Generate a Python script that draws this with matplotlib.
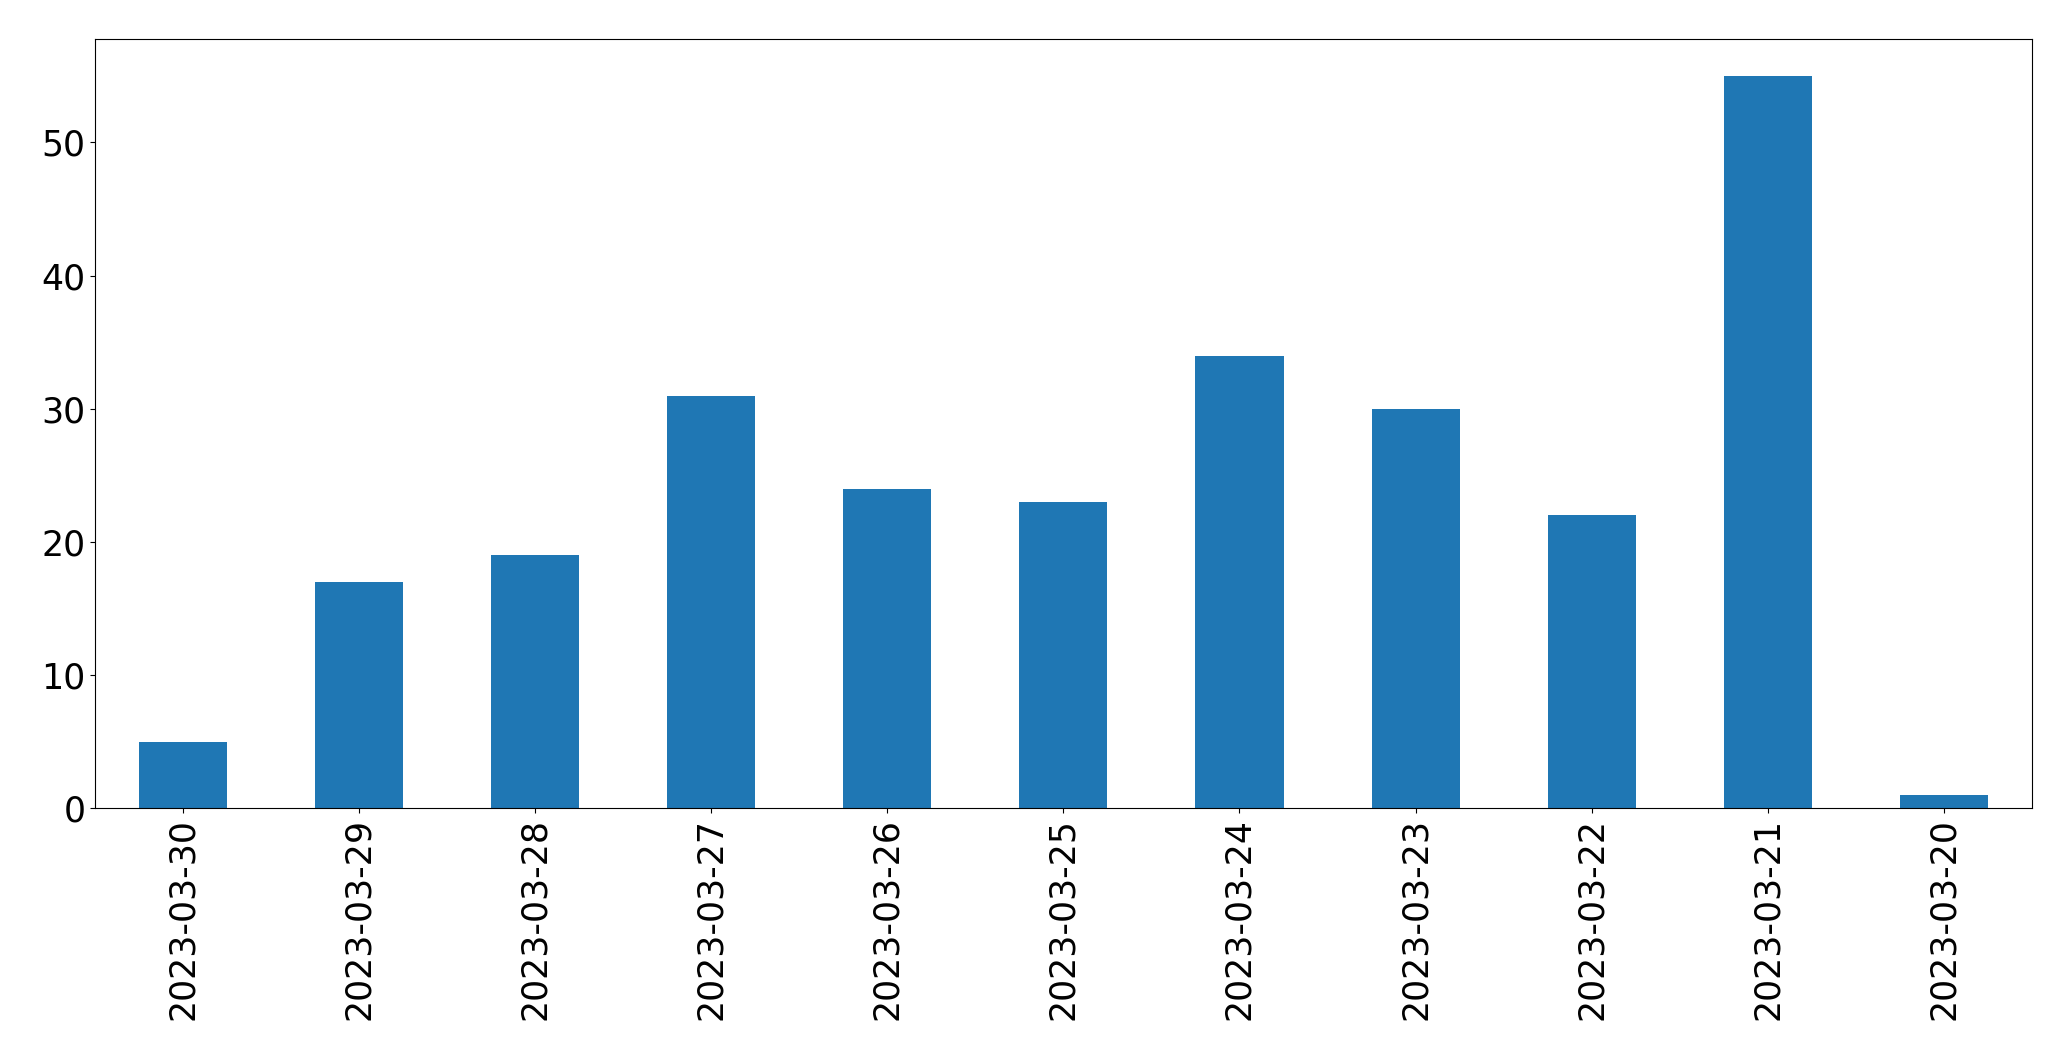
import matplotlib
matplotlib.use("Agg")
import matplotlib.pyplot as plt

dates = ["2023-03-30", "2023-03-29", "2023-03-28", "2023-03-27", "2023-03-26",
         "2023-03-25", "2023-03-24", "2023-03-23", "2023-03-22", "2023-03-21",
         "2023-03-20"]
counts = [5, 17, 19, 31, 24, 23, 34, 30, 22, 55, 1]

fig = plt.figure(figsize=(20.71, 10.61), dpi=100)
ax = fig.add_axes([0.046, 0.238, 0.935, 0.725])
x = list(range(len(dates)))
ax.bar(x, counts, width=0.5, color="#1f77b4")
ax.set_xticks(x)
ax.set_xticklabels(dates, rotation=90)
ax.set_xlim(-0.5, len(dates) - 0.5)
ax.tick_params(axis="both", labelsize=25)
fig.savefig("out.png", dpi=100)
